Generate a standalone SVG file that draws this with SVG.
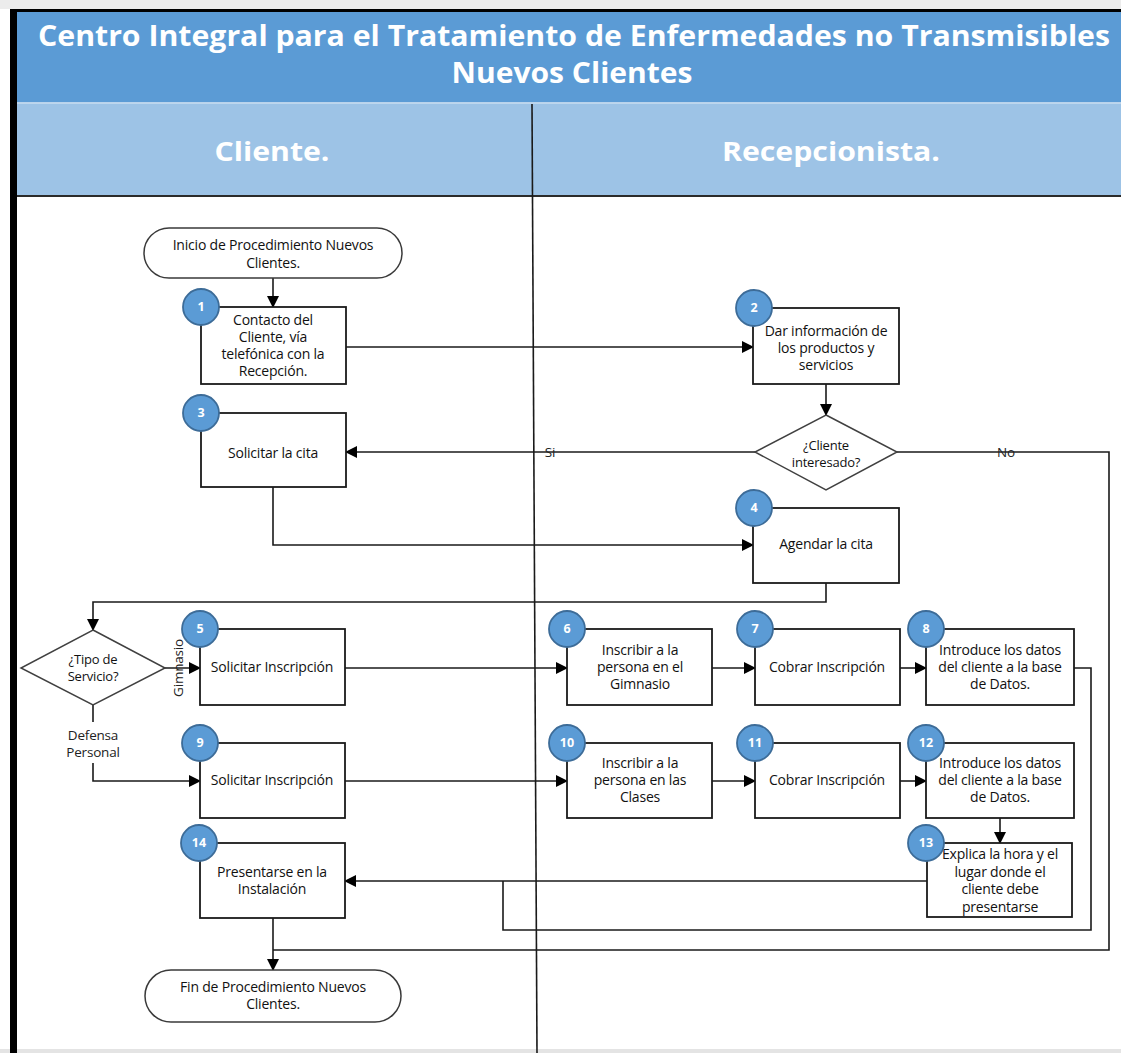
<svg xmlns="http://www.w3.org/2000/svg" width="1121" height="1053" viewBox="0 0 1121 1053">
  <style>
    .box{fill:#fff;stroke:#1a1a1a;stroke-width:1.8}
    .term{fill:#fff;stroke:#3a3a3a;stroke-width:1.5}
    .dec{fill:#fff;stroke:#404040;stroke-width:1.5}
    .num circle{fill:#5B9BD5;stroke:#3d6c98;stroke-width:1.8}
    .num text{fill:#fff;font-family:'Open Sans',sans-serif;font-weight:bold;font-size:12.5px;text-anchor:middle}
    .t{font-family:'Open Sans',sans-serif;font-size:14px;fill:#111;text-anchor:middle;letter-spacing:-0.2px}
    .d{font-family:'Open Sans',sans-serif;font-size:13px;fill:#111;text-anchor:middle;letter-spacing:-0.2px}
    .lbl{font-family:'Open Sans',sans-serif;font-size:13.5px;fill:#222;text-anchor:middle;letter-spacing:-0.2px}
    .wire{fill:none;stroke:#1a1a1a;stroke-width:1.6}
    .arr{marker-end:url(#ah)}
    .hdr{font-family:'Open Sans',sans-serif;font-weight:bold;fill:#fff;text-anchor:middle}
  </style>
  <defs>
    <marker id="ah" markerWidth="12" markerHeight="12" refX="11" refY="6" orient="auto" markerUnits="userSpaceOnUse">
      <path d="M0,0 L12,6 L0,12 z" fill="#000"/>
    </marker>
  </defs>

  <!-- page background -->
  <rect x="0" y="0" width="1121" height="1053" fill="#fff"/>
  <rect x="0" y="0" width="1121" height="9" fill="#ececec"/>
  <rect x="0" y="1049" width="1121" height="4" fill="#e4e4e4"/>

  <!-- pool frame and header bands -->
  <g id="pool">
    <rect x="17" y="12" width="1104" height="90" fill="#5B9BD5"/>
    <rect x="17" y="102" width="1104" height="1.5" fill="#b9d3ec"/>
    <rect x="17" y="103.5" width="1104" height="92" fill="#9DC3E6"/>
    <rect x="17" y="195" width="1104" height="2" fill="#2b2b2b"/>
    <rect x="10" y="9" width="1111" height="3" fill="#000"/>
    <rect x="10" y="9" width="7" height="1044" fill="#000"/>
    <line x1="532" y1="104" x2="537" y2="1053" stroke="#1a1a1a" stroke-width="1.6"/>
    <text class="hdr" x="574" y="46" font-size="28" textLength="1072" lengthAdjust="spacingAndGlyphs">Centro Integral para el Tratamiento de Enfermedades no Transmisibles</text>
    <text class="hdr" x="572" y="83" font-size="28" textLength="241" lengthAdjust="spacingAndGlyphs">Nuevos Clientes</text>
    <text class="hdr" x="272" y="161" font-size="27" textLength="115" lengthAdjust="spacingAndGlyphs">Cliente.</text>
    <text class="hdr" x="831" y="161" font-size="27" textLength="218" lengthAdjust="spacingAndGlyphs">Recepcionista.</text>
  </g>

  <!-- connectors -->
  <g id="connectors">
    <path class="wire arr" d="M273,278 V307"/>
    <path class="wire arr" d="M346,347 H753"/>
    <path class="wire arr" d="M826,384 V415"/>
    <path class="wire arr" d="M755,452 H346"/>
    <path class="wire" d="M897,452 H1109 V950 H273"/>
    <path class="wire arr" d="M273,487 V545 H753"/>
    <path class="wire arr" d="M826,583 V602 H93 V630"/>
    <path class="wire arr" d="M165,668 H200"/>
    <path class="wire" d="M93,705 V722"/>
    <path class="wire arr" d="M93,763 V781 H200"/>
    <path class="wire arr" d="M345,668 H567"/>
    <path class="wire arr" d="M712,668 H755"/>
    <path class="wire arr" d="M900,668 H926"/>
    <path class="wire" d="M1074,668 H1091 V930 H503 V881"/>
    <path class="wire arr" d="M345,781 H567"/>
    <path class="wire arr" d="M712,781 H755"/>
    <path class="wire arr" d="M900,781 H926"/>
    <path class="wire arr" d="M1000,818 V843"/>
    <path class="wire arr" d="M927,881 H345"/>
    <path class="wire arr" d="M273,918 V970"/>
    <text class="lbl" x="550" y="457">Si</text>
    <text class="lbl" x="1006" y="457">No</text>
    <text class="lbl" x="93" y="740">Defensa</text>
    <text class="lbl" x="93" y="757">Personal</text>
    <text class="lbl" transform="translate(183,668) rotate(-90)" fill="#555">Gimnasio</text>
  </g>

  <!-- start -->
  <g id="start">
    <rect class="term" x="144" y="228" width="258" height="50" rx="25"/>
    <text class="t" x="273" y="250">Inicio de Procedimiento Nuevos</text>
    <text class="t" x="273" y="268">Clientes.</text>
  </g>

  <g id="step1">
    <rect class="box" x="201" y="307" width="145" height="77"/>
    <text class="t" x="273" y="325">Contacto del</text>
    <text class="t" x="273" y="342">Cliente, vía</text>
    <text class="t" x="273" y="359">telefónica con la</text>
    <text class="t" x="273" y="376">Recepción.</text>
    <g class="num"><circle cx="201" cy="307" r="18"/><text x="201" y="311">1</text></g>
  </g>

  <g id="step2">
    <rect class="box" x="753" y="308" width="146" height="76"/>
    <text class="t" x="826" y="336">Dar información de</text>
    <text class="t" x="826" y="353">los productos y</text>
    <text class="t" x="826" y="370">servicios</text>
    <g class="num"><circle cx="754" cy="308" r="18"/><text x="754" y="312">2</text></g>
  </g>

  <g id="decision-interes">
    <polygon class="dec" points="826,415 897,452 826,490 755,452"/>
    <text class="d" x="826" y="450">¿Cliente</text>
    <text class="d" x="826" y="467">interesado?</text>
  </g>

  <g id="step3">
    <rect class="box" x="201" y="413" width="145" height="74"/>
    <text class="t" x="273" y="458">Solicitar la cita</text>
    <g class="num"><circle cx="201" cy="413" r="18"/><text x="201" y="417">3</text></g>
  </g>

  <g id="step4">
    <rect class="box" x="753" y="508" width="146" height="75"/>
    <text class="t" x="826" y="549">Agendar la cita</text>
    <g class="num"><circle cx="754" cy="508" r="18"/><text x="754" y="512">4</text></g>
  </g>

  <g id="decision-servicio">
    <polygon class="dec" points="93,630 165,668 93,705 21,668"/>
    <text class="d" x="93" y="664">¿Tipo de</text>
    <text class="d" x="93" y="681">Servicio?</text>
  </g>

  <g id="step5">
    <rect class="box" x="200" y="629" width="145" height="76"/>
    <text class="t" x="272" y="672">Solicitar Inscripción</text>
    <g class="num"><circle cx="200" cy="629" r="18"/><text x="200" y="633">5</text></g>
  </g>

  <g id="step6">
    <rect class="box" x="567" y="629" width="145" height="76"/>
    <text class="t" x="640" y="655">Inscribir a la</text>
    <text class="t" x="640" y="672">persona en el</text>
    <text class="t" x="640" y="689">Gimnasio</text>
    <g class="num"><circle cx="567" cy="629" r="18"/><text x="567" y="633">6</text></g>
  </g>

  <g id="step7">
    <rect class="box" x="755" y="629" width="145" height="76"/>
    <text class="t" x="827" y="672">Cobrar Inscripción</text>
    <g class="num"><circle cx="755" cy="629" r="18"/><text x="755" y="633">7</text></g>
  </g>

  <g id="step8">
    <rect class="box" x="926" y="629" width="148" height="76"/>
    <text class="t" x="1000" y="655">Introduce los datos</text>
    <text class="t" x="1000" y="672">del cliente a la base</text>
    <text class="t" x="1000" y="689">de Datos.</text>
    <g class="num"><circle cx="926" cy="629" r="18"/><text x="926" y="633">8</text></g>
  </g>

  <g id="step9">
    <rect class="box" x="200" y="743" width="145" height="75"/>
    <text class="t" x="272" y="785">Solicitar Inscripción</text>
    <g class="num"><circle cx="200" cy="743" r="18"/><text x="200" y="747">9</text></g>
  </g>

  <g id="step10">
    <rect class="box" x="567" y="743" width="145" height="75"/>
    <text class="t" x="640" y="768">Inscribir a la</text>
    <text class="t" x="640" y="785">persona en las</text>
    <text class="t" x="640" y="802">Clases</text>
    <g class="num"><circle cx="567" cy="743" r="18"/><text x="567" y="747">10</text></g>
  </g>

  <g id="step11">
    <rect class="box" x="755" y="743" width="145" height="75"/>
    <text class="t" x="827" y="785">Cobrar Inscripción</text>
    <g class="num"><circle cx="755" cy="743" r="18"/><text x="755" y="747">11</text></g>
  </g>

  <g id="step12">
    <rect class="box" x="926" y="743" width="148" height="75"/>
    <text class="t" x="1000" y="768">Introduce los datos</text>
    <text class="t" x="1000" y="785">del cliente a la base</text>
    <text class="t" x="1000" y="802">de Datos.</text>
    <g class="num"><circle cx="926" cy="743" r="18"/><text x="926" y="747">12</text></g>
  </g>

  <g id="step13">
    <rect class="box" x="927" y="843" width="145" height="74"/>
    <text class="t" x="1000" y="859">Explica la hora y el</text>
    <text class="t" x="1000" y="877">lugar donde el</text>
    <text class="t" x="1000" y="894">cliente debe</text>
    <text class="t" x="1000" y="912">presentarse</text>
    <g class="num"><circle cx="926" cy="843" r="18"/><text x="926" y="847">13</text></g>
  </g>

  <g id="step14">
    <rect class="box" x="200" y="843" width="145" height="75"/>
    <text class="t" x="272" y="877">Presentarse en la</text>
    <text class="t" x="272" y="894">Instalación</text>
    <g class="num"><circle cx="199" cy="843" r="18"/><text x="199" y="847">14</text></g>
  </g>

  <g id="end">
    <rect class="term" x="145" y="970" width="256" height="52" rx="26"/>
    <text class="t" x="273" y="992">Fin de Procedimiento Nuevos</text>
    <text class="t" x="273" y="1009">Clientes.</text>
  </g>
</svg>
